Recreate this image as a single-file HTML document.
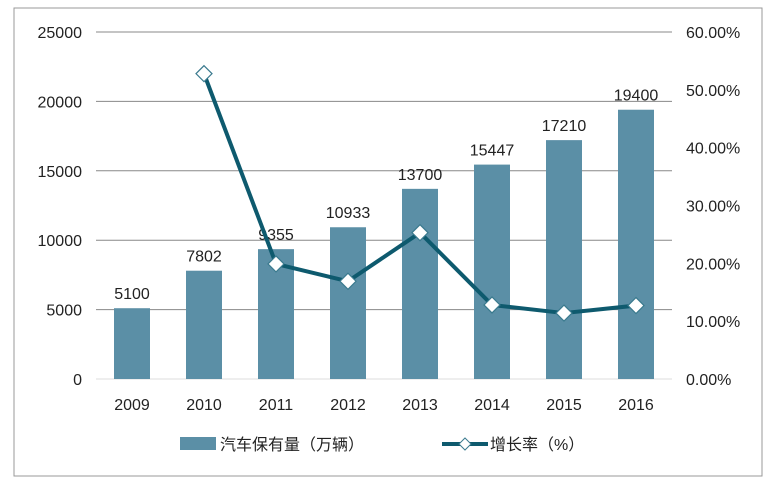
<!DOCTYPE html>
<html><head><meta charset="utf-8"><style>
body{margin:0;background:#fff;}
svg text{font-family:"Liberation Sans","Noto Sans CJK SC",sans-serif;font-size:16px;fill:#222;}
</style></head><body>
<svg width="772" height="481">
<rect x="14" y="8" width="748" height="468" fill="#fff" stroke="#999"/>
<g id="grid"></g><g id="bars"></g><g id="line"></g><g id="axes"></g>
<g>
<rect x="180" y="437" width="36" height="13" fill="#5b8fa6"/>
<text x="220" y="450">汽车保有量（万辆）</text>
<line x1="442" y1="444" x2="488" y2="444" stroke="#0e5a6e" stroke-width="4"/>
<path d="M465 438 L471 444 L465 450 L459 444 Z" fill="#fff" stroke="#3a7a8e"/>
<text x="490" y="450">增长率（%）</text>
</g>
</svg>
<script>
const years=["2009","2010","2011","2012","2013","2014","2015","2016"];
const stock=[5100,7802,9355,10933,13700,15447,17210,19400];
const growth=[null,52.8,19.9,16.9,25.3,12.8,11.4,12.7];
const leftTicks=[0,5000,10000,15000,20000,25000];
const rightTicks=["0.00%","10.00%","20.00%","30.00%","40.00%","50.00%","60.00%"];
const NS="http://www.w3.org/2000/svg";
const x0=96,x1=672,yTop=32,yBot=379;
const yL=v=>yBot-(v/25000)*(yBot-yTop);
const yR=v=>yBot-(v/60)*(yBot-yTop);
const step=(x1-x0)/years.length;
const xC=i=>x0+step*(i+0.5);
function mk(t,a,p){const e=document.createElementNS(NS,t);for(const k in a)e.setAttribute(k,a[k]);p.appendChild(e);return e;}
const g=document.getElementById('grid'),b=document.getElementById('bars'),l=document.getElementById('line'),ax=document.getElementById('axes');
leftTicks.forEach((v,i)=>{
 const ln=mk('line',{x1:x0,x2:x1,y1:yL(v),y2:yL(v),stroke:i==0?'#ddd':'#888','stroke-width':1},g);
 
 
 const t=mk('text',{x:82,y:yL(v)+6,'text-anchor':'end'},ax);t.textContent=v;
 
 
});
rightTicks.forEach((s,i)=>{
 const t=mk('text',{x:686,y:yR(i*10)+6},ax);t.textContent=s;
 
 
});
years.forEach((y,i)=>{
 const r=mk('rect',{x:xC(i)-18,y:yL(stock[i]),width:36,height:yBot-yL(stock[i]),fill:'#5b8fa6'},b);
 
 
 const v=mk('text',{x:xC(i),y:yL(stock[i])-9,'text-anchor':'middle'},b);v.textContent=stock[i];
 
 
 const t=mk('text',{x:xC(i),y:410,'text-anchor':'middle'},ax);t.textContent=y;
 
 
});
let d='';growth.forEach((v,i)=>{if(v==null)return;d+=(d?'L':'M')+xC(i)+' '+yR(v);});
const p=mk('path',{d:d,fill:'none',stroke:'#0e5a6e','stroke-width':4,'stroke-linejoin':'round'},l);


growth.forEach((v,i)=>{if(v==null)return;const x=xC(i),y=yR(v);
 const m=mk('path',{d:`M${x} ${y-8}L${x+8} ${y}L${x} ${y+8}L${x-8} ${y}Z`,fill:'#fff',stroke:'#3a7a8e','stroke-width':1.2},l);
 
 
});
</script>
</body></html>
